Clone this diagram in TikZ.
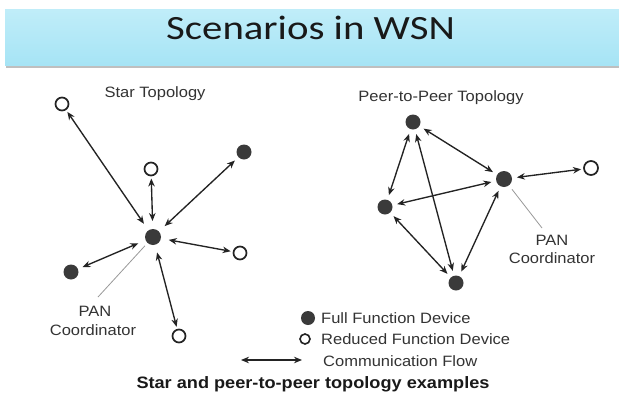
\documentclass[tikz,border=0pt]{standalone}
\usepackage{fontspec}
\setmainfont[FakeStretch=1.1]{Liberation Sans}
\newfontfamily\titlefont[FakeStretch=1.2]{Carlito}
\usetikzlibrary{arrows.meta}

\definecolor{barTop}{RGB}{192,237,249}
\definecolor{barBot}{RGB}{166,228,245}
\definecolor{nodeFill}{RGB}{58,58,58}
\definecolor{inkDark}{RGB}{35,35,35}

\tikzset{
  ffd/.style={circle, fill=nodeFill, draw=none, minimum size=15pt, inner sep=0pt, outer sep=5pt},
  rfd/.style={circle, draw=inkDark, line width=1.7pt, fill=white, minimum size=13pt, inner sep=0pt, outer sep=3pt},
  flow/.style={{Stealth[length=8pt,width=6.5pt]}-{Stealth[length=8pt,width=6.5pt]},
               line width=1.35pt, draw=inkDark},
  leader/.style={draw=black!40, line width=0.8pt},
  lbl/.style={inner sep=0pt, text=black!80, font=\fontsize{15}{18}\selectfont},
}

\begin{document}
\begin{tikzpicture}[x=1pt, y=-1pt]
  \useasboundingbox (0,0) rectangle (619,402);
  \fill[white] (0,0) rectangle (619,402);

  % title bar with its drop shadow
  \fill[black!25] (6,11) rectangle (619,68);
  \shade[top color=barTop, bottom color=barBot] (5,9) rectangle (619,65);
  \node[anchor=base west, inner sep=0pt, font=\titlefont\fontsize{34}{40}\selectfont, text=black!90]
    (title) at (166,39) {Scenarios in WSN};

  % ---------- star topology ----------
  \node[lbl] (starT) at (155,94) {Star Topology};
  \node[ffd, minimum size=16pt, outer sep=8pt] (C) at (153,237) {};
  \node[rfd] (s1) at (62,104) {};
  \node[rfd] (s2) at (151,169) {};
  \node[ffd] (s3) at (244,152) {};
  \node[rfd] (s4) at (240,253) {};
  \node[ffd] (s5) at (71,272) {};
  \node[rfd] (s6) at (179,336) {};
  \foreach \n in {s1,s2,s3,s4,s5,s6} \draw[flow] (C) -- (\n);

  \node[lbl] (panA) at (95,311) {PAN};
  \node[lbl] (coordA) at (93,330) {Coordinator};
  \coordinate (legA) at (98,297);
  \draw[leader, shorten <=12pt] (C.center) -- (legA);

  % ---------- peer-to-peer topology ----------
  \node[lbl] (p2pT) at (441,98) {Peer-to-Peer Topology};
  \node[ffd] (T) at (413,122) {};
  \node[ffd, minimum size=16pt] (P) at (504,179) {};
  \node[rfd, minimum size=14pt] (R) at (591,168) {};
  \node[ffd] (L) at (385,207) {};
  \node[ffd] (B) at (456,283) {};
  \draw[flow] (T) -- (L);
  \draw[flow] (T) -- (P);
  \draw[flow] (T) -- (B);
  \draw[flow] (L) -- (P);
  \draw[flow] (L) -- (B);
  \draw[flow] (P) -- (B);
  \draw[flow] (P) -- (R);

  \node[lbl] (panB) at (552,240) {PAN};
  \node[lbl] (coordB) at (552,258) {Coordinator};
  \coordinate (legB) at (542,228);
  \draw[leader, shorten <=13pt] (P.center) -- (legB);

  % ---------- legend ----------
  \node[circle, fill=nodeFill, minimum size=14pt, inner sep=0pt] (kF) at (308,318) {};
  \node[circle, draw=inkDark, line width=1.6pt, fill=white, minimum size=10pt, inner sep=0pt] (kR) at (305,339) {};
  \coordinate (kA1) at (241,360);
  \coordinate (kA2) at (302,360);
  \draw[flow] (kA1) -- (kA2);
  \node[lbl, anchor=west] (kFt) at (321,318) {Full Function Device};
  \node[lbl, anchor=west] (kRt) at (321,339) {Reduced Function Device};
  \node[lbl, anchor=west] (kAt) at (323,361) {Communication Flow};

  % caption
  \node[inner sep=0pt, font=\bfseries\fontsize{16.5}{20}\selectfont, text=black!90] (cap) at (313,384)
    {Star and peer-to-peer topology examples};
\end{tikzpicture}
\end{document}
